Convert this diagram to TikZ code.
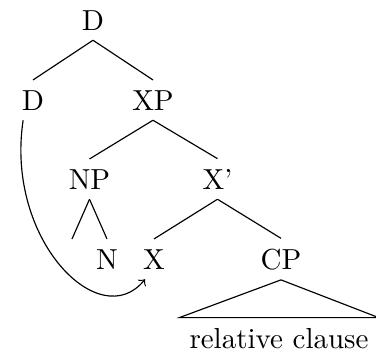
\documentclass[tikz,border=0pt]{standalone}
\begin{document}
\begin{tikzpicture}[x=0.345pt,y=-0.345pt,
  lbl/.style={anchor=base},
  edge/.style={draw}]
\useasboundingbox (0,0) rectangle (376,352);
\node[lbl] (d1) at (93,30) {D};
\node[lbl] (d2) at (33,110) {D};
\node[lbl] (xp) at (153,110) {XP};
\node[lbl] (np) at (89.5,189) {NP};
\node[lbl] (xb) at (217.5,189) {X'};
\node[lbl] (n) at (107,269) {N};
\node[lbl] (x) at (154,269) {X};
\node[lbl] (cp) at (281,269) {CP};
\node[lbl] (rc) at (279,348) {relative clause};
\coordinate (e) at (72,239);
\draw (d1.south) -- (d2.north);
\draw (d1.south) -- (xp.north);
\draw (xp.south) -- (np.north);
\draw (xp.south) -- (xb.north);
\draw (np.south) -- (e);
\draw (np.south) -- (n.north);
\draw (xb.south) -- (x.north);
\draw (xb.south) -- (cp.north);
\draw (cp.south) -- (rc.north west) -- (rc.north east) -- cycle;
\draw[->] ([xshift=-3.4pt]d2.south) .. controls (5,240) and (100,335) .. ([xshift=-3.1pt]x.south);
\end{tikzpicture}
\end{document}
